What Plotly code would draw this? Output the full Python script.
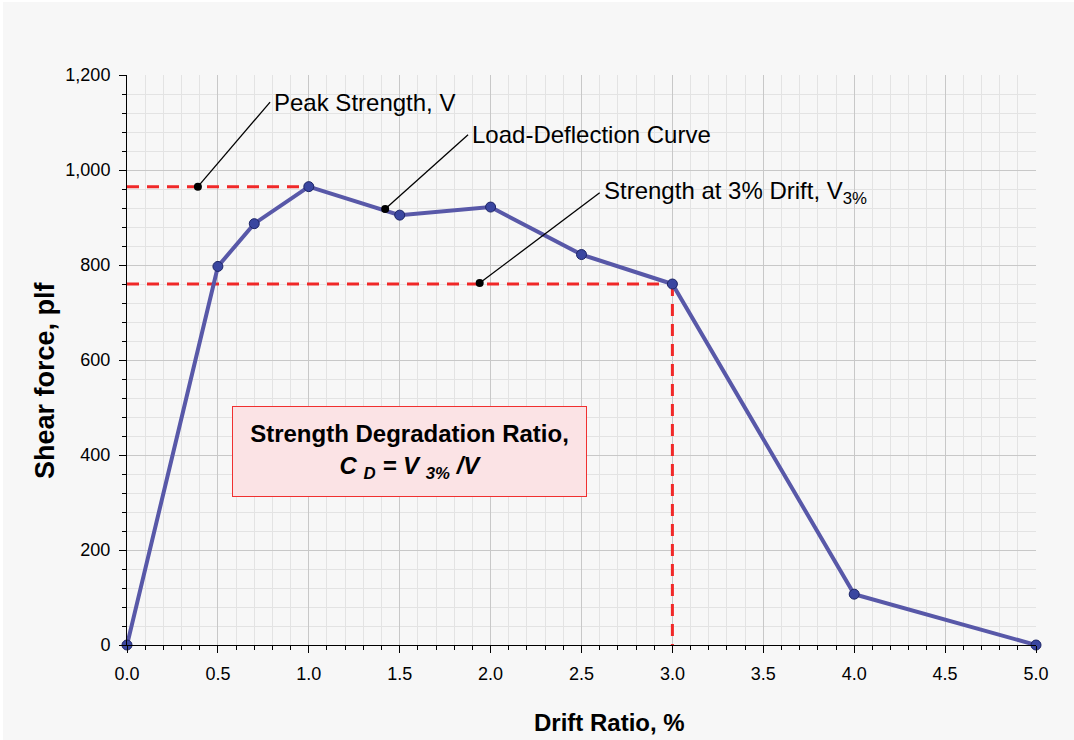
import plotly.graph_objects as go

# ---- data ----
drift = [0.0, 0.5, 0.7, 1.0, 1.5, 2.0, 2.5, 3.0, 4.0, 5.0]
shear = [0, 797, 887, 965, 905, 922, 822, 760, 107, 0]

x_ticks = [0.0, 0.5, 1.0, 1.5, 2.0, 2.5, 3.0, 3.5, 4.0, 4.5, 5.0]
y_ticks = [0, 200, 400, 600, 800, 1000, 1200]

# callouts: point on chart, leader end, label
callout_labels = ["Peak Strength, V", "Load-Deflection Curve", "Strength at 3% Drift, V<sub>3%</sub>"]
callout_pt_x = [0.39, 1.42, 1.94]
callout_pt_y = [965, 918, 762]
callout_end_x = [0.787, 1.876, 2.60]
callout_end_y = [1143, 1074, 952]

box_line1 = "Strength Degradation Ratio,"
box_line2 = "C <sub>D</sub> = V <sub>3%</sub> /V"
x_title = "Drift Ratio, %"
y_title = "Shear force, plf"

FONT = "Liberation Sans, Arial, sans-serif"
BG = "#f7f7f7"

peak = max(shear)
peak_x = drift[shear.index(peak)]
v3 = shear[drift.index(3.0)]

fig = go.Figure()

red = dict(color="#f02828", width=3, dash="12px,8px")
fig.add_trace(go.Scatter(x=[0, peak_x], y=[peak, peak], mode="lines", line=red, hoverinfo="skip"))
fig.add_trace(go.Scatter(x=[0, 3.0], y=[v3, v3], mode="lines", line=red, hoverinfo="skip"))
fig.add_trace(go.Scatter(x=[3.0, 3.0], y=[v3, 0], mode="lines", line=red, hoverinfo="skip"))

fig.add_trace(go.Scatter(
    x=drift, y=shear, mode="lines+markers",
    line=dict(color="#5858a8", width=4),
    marker=dict(size=10, color="#3a46a0", line=dict(color="#1c2466", width=1)),
    cliponaxis=False, hoverinfo="skip"))

for px, py, ex, ey in zip(callout_pt_x, callout_pt_y, callout_end_x, callout_end_y):
    fig.add_trace(go.Scatter(x=[px, ex], y=[py, ey], mode="lines",
                             line=dict(color="black", width=1.3), hoverinfo="skip"))
fig.add_trace(go.Scatter(x=callout_pt_x, y=callout_pt_y, mode="markers",
                         marker=dict(size=8, color="black"), hoverinfo="skip"))

annotations = []
for lab, ex, ey in zip(callout_labels, callout_end_x, callout_end_y):
    annotations.append(dict(x=ex + 0.012, y=ey, xref="x", yref="y", text=lab,
                            showarrow=False, xanchor="left", yanchor="middle",
                            font=dict(family=FONT, size=24, color="black")))

# box
annotations.append(dict(
    x=(233 - 127) / 909 + (586 - 233) / 909 / 2, y=(645 - 451) / 570,
    xref="paper", yref="paper",
    text=f"<b>{box_line1}</b><br><b><i>{box_line2}</i></b>",
    showarrow=False, xanchor="center", yanchor="middle",
    width=351, height=87, align="center",
    bgcolor="#fbe3e5", bordercolor="#f03030", borderwidth=1,
    font=dict(family=FONT, size=24, color="black")))

annotations.append(dict(x=(609 - 127) / 909, y=(645 - 722) / 570, xref="paper", yref="paper",
                        text=f"<b>{x_title}</b>", showarrow=False,
                        xanchor="center", yanchor="middle",
                        font=dict(family=FONT, size=24, color="black")))
annotations.append(dict(x=(45 - 127) / 909, y=(645 - 380) / 570, xref="paper", yref="paper",
                        text=f"<b>{y_title}</b>", showarrow=False, textangle=-90,
                        xanchor="center", yanchor="middle",
                        font=dict(family=FONT, size=27, color="black")))

shapes = [dict(type="rect", xref="paper", yref="paper",
               x0=(3 - 127) / 909, x1=(1080 - 127) / 909,
               y0=(645 - 745) / 570, y1=(645 - 2) / 570,
               fillcolor=BG, line=dict(width=0), layer="below")]

fig.update_layout(
    width=1074, height=740,
    margin=dict(l=127, r=38, t=75, b=95),
    paper_bgcolor="white", plot_bgcolor=BG,
    showlegend=False,
    font=dict(family=FONT, size=18, color="black"),
    annotations=annotations, shapes=shapes,
)
fig.update_xaxes(
    range=[0, 5], tickvals=x_ticks, ticktext=[f"{v:.1f}" for v in x_ticks],
    showgrid=True, gridcolor="#c8c8c8", gridwidth=1,
    showline=True, linecolor="black", linewidth=1,
    ticks="outside", ticklen=7, tickcolor="black", ticklabelstandoff=5,
    minor=dict(dtick=0.1, showgrid=True, gridcolor="#e3e3e3", ticks="outside",
               ticklen=4, tickcolor="black"),
    zeroline=False, tickfont=dict(size=18),
)
fig.update_yaxes(
    range=[0, 1200], tickvals=y_ticks, ticktext=[f"{v:,}" for v in y_ticks],
    showgrid=True, gridcolor="#c8c8c8", gridwidth=1,
    showline=True, linecolor="black", linewidth=1,
    ticks="outside", ticklen=7, tickcolor="black", ticklabelstandoff=5,
    minor=dict(dtick=40, showgrid=True, gridcolor="#e3e3e3", ticks="outside",
               ticklen=4, tickcolor="black"),
    zeroline=False, tickfont=dict(size=18),
)

fig.write_html("out.html", config={"displayModeBar": False},
               post_script="document.body.style.margin='0px';document.body.style.overflow='hidden';")
